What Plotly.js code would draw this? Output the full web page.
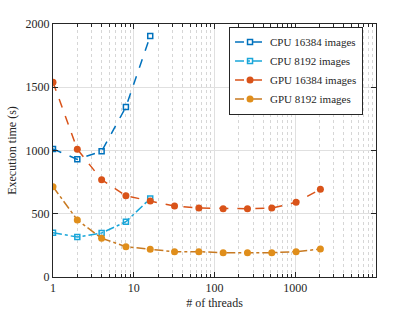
<!DOCTYPE html>
<html><head><meta charset="utf-8">
<script src="https://cdn.plot.ly/plotly-3.0.1.min.js"></script>
<style>html,body{margin:0;padding:0;background:#fff}#c{width:415px;height:312px}</style>
</head><body><div id="c"></div>
<script>
const cpuThreads = [1, 2, 4, 8, 16];
const gpuThreads = [1, 2, 4, 8, 16, 32, 64, 128, 256, 512, 1024, 2048];
const cpu16384 = [1012, 930, 994, 1344, 1905];
const cpu8192 = [350, 316, 348, 437, 620];
const gpu16384 = [1540, 1010, 769, 643, 600, 561, 545, 540, 540, 545, 590, 693];
const gpu8192 = [714, 451, 306, 240, 219, 200, 200, 192, 192, 192, 200, 221];
const seriesNames = ['CPU 16384 images', 'CPU 8192 images', 'GPU 16384 images', 'GPU 8192 images'];
const xTickVals = [1, 10, 100, 1000];
const yTickVals = [0, 500, 1000, 1500, 2000];

const minorVals = [];
for (let d = 1; d < 10000; d *= 10) for (let k = 2; k <= 9; k++) minorVals.push(k * d);

const FAM = 'Liberation Serif, Times New Roman, serif';
const INK = '#262626';
const font = {family: FAM, size: 12, color: INK};

const traces = [
  {x: cpuThreads, y: cpu16384, name: seriesNames[0], mode: 'lines+markers',
   line: {color: '#0072BD', dash: 'dash', width: 1.5},
   marker: {symbol: 'square-open', size: 5, color: '#0072BD', line: {width: 1.5}}},
  {x: cpuThreads, y: cpu8192, name: seriesNames[1], mode: 'lines+markers',
   line: {color: '#1AA6D9', dash: 'dashdot', width: 1.5},
   marker: {symbol: 'square-open', size: 5, color: '#1AA6D9', line: {width: 1.5}}},
  {x: gpuThreads, y: gpu16384, name: seriesNames[2], mode: 'lines+markers',
   line: {color: '#D95319', dash: 'dash', width: 1.5},
   marker: {symbol: 'circle', size: 7, color: '#D95319'}},
  {x: gpuThreads, y: gpu8192, name: seriesNames[3], mode: 'lines+markers',
   line: {color: '#C87A22', dash: 'dashdot', width: 1.5},
   marker: {symbol: 'circle', size: 7, color: '#E08E1B'}}
];

const layout = {
  width: 415, height: 312,
  margin: {l: 53, r: 39, t: 24, b: 35},
  paper_bgcolor: '#fff', plot_bgcolor: '#fff',
  font: font,
  showlegend: true,
  legend: {x: 0.545, y: 0.99, xanchor: 'left', yanchor: 'top',
    bgcolor: '#fff', bordercolor: INK, borderwidth: 1,
    font: {family: FAM, size: 11, color: INK},
    tracegroupgap: 0, itemwidth: 30},
  xaxis: {
    type: 'log', range: [0, 4],
    tickmode: 'array', tickvals: xTickVals, ticktext: xTickVals.map(String),
    ticks: 'inside', ticklen: 5, tickcolor: INK,
    showline: true, linecolor: INK, linewidth: 1, mirror: 'ticks',
    showgrid: true, gridcolor: '#e0e0e0', gridwidth: 1,
    zeroline: false,
    minor: {tickmode: 'array', tickvals: minorVals, ticks: 'inside', ticklen: 3,
      tickcolor: INK, showgrid: true, gridcolor: '#d6d6d6', griddash: 'dot', gridwidth: 1},
    title: {text: '# of threads', font: {family: FAM, size: 12, color: INK}, standoff: 4},
    tickfont: {family: FAM, size: 12, color: INK}
  },
  yaxis: {
    range: [0, 2000],
    tickmode: 'array', tickvals: yTickVals,
    ticks: 'inside', ticklen: 5, tickcolor: INK,
    showline: true, linecolor: INK, linewidth: 1, mirror: 'ticks',
    showgrid: true, gridcolor: '#e0e0e0', gridwidth: 1,
    zeroline: false,
    title: {text: 'Execution time (s)', font: {family: FAM, size: 12, color: INK}, standoff: 6},
    tickfont: {family: FAM, size: 12, color: INK}
  }
};

Plotly.newPlot('c', traces, layout, {displayModeBar: false, staticPlot: true});
</script></body></html>
